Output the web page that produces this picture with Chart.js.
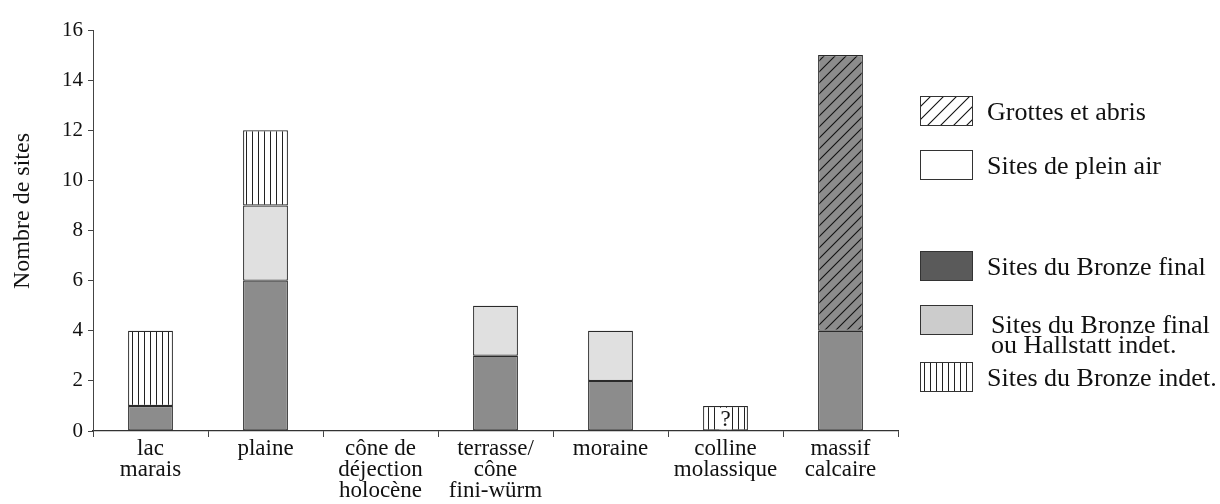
<!DOCTYPE html>
<html>
<head>
<meta charset="utf-8">
<script src="https://cdn.jsdelivr.net/npm/chart.js@4.4.1/dist/chart.umd.min.js"></script>
<style>
  html, body { margin: 0; background: #fff; }
  #wrap { width: 1220px; height: 504px; position: relative; }
</style>
</head>
<body>
<div id="wrap"><canvas id="chart"></canvas></div>
<script>
// data
const categories = [
  ['lac', 'marais'], ['plaine'], ['cône de', 'déjection', 'holocène'],
  ['terrasse/', 'cône', 'fini-würm'], ['moraine'], ['colline', 'molassique'], ['massif', 'calcaire']
];
const bronzeFinal     = [1, 6, 0, 3, 2, 0, 4];
const bronzeHallstatt = [0, 3, 0, 2, 2, 0, 0];
const bronzeIndet     = [3, 3, 0, 0, 0, 1, 0];
const grottes         = [0, 0, 0, 0, 0, 0, 11];
const barNotes        = ['', '', '', '', '', '?', ''];
const legendLabels = [
  ['Grottes et abris'],
  ['Sites de plein air'],
  ['Sites du Bronze final'],
  ['Sites du Bronze final', 'ou Hallstatt indet.'],
  ['Sites du Bronze indet.']
];
const yTitle = 'Nombre de sites';

const FONT = "'Liberation Serif', 'Times New Roman', serif";
const EDGE = '#2a2a2a';

// patterns
function makeTile(w, h, draw) {
  const c = document.createElement('canvas');
  c.width = w; c.height = h;
  draw(c.getContext('2d'), w, h);
  return c;
}
const ctx = document.getElementById('chart').getContext('2d');

const vertTile = makeTile(6, 6, (g, w, h) => {
  g.fillStyle = '#fff'; g.fillRect(0, 0, w, h);
  g.strokeStyle = '#222'; g.lineWidth = 1;
  g.beginPath(); g.moveTo(0.5, 0); g.lineTo(0.5, h); g.stroke();
});
function hatchTile(bg, s) {
  return makeTile(s, s, (g, w, h) => {
    g.fillStyle = bg; g.fillRect(0, 0, w, h);
    g.strokeStyle = '#111'; g.lineWidth = 1.1;
    g.beginPath();
    g.moveTo(0, h); g.lineTo(w, 0);
    g.moveTo(-1, 1); g.lineTo(1, -1);
    g.moveTo(w - 1, h + 1); g.lineTo(w + 1, h - 1);
    g.stroke();
  });
}
const vertPattern = ctx.createPattern(vertTile, 'repeat');
const hatchGray = ctx.createPattern(hatchTile('#8c8c8c', 11), 'repeat');
const hatchWhite = ctx.createPattern(hatchTile('#ffffff', 13), 'repeat');

// legend swatches, same order as legendLabels
const legendFills = [hatchWhite, '#ffffff', '#5a5a5a', '#cccccc', vertPattern];
const legendY = [111, 165, 266, 320, 377];

const legendPlugin = {
  id: 'sideLegend',
  afterDraw(chart) {
    const c = chart.ctx;
    c.save();
    legendLabels.forEach((lines, i) => {
      const y = legendY[i];
      c.fillStyle = legendFills[i];
      c.fillRect(920, y - 15, 53, 30);
      c.strokeStyle = '#333';
      c.lineWidth = 1;
      c.strokeRect(920.5, y - 14.5, 52, 29);
      c.fillStyle = '#111';
      c.font = '26px ' + FONT;
      c.textBaseline = 'alphabetic';
      c.textAlign = 'left';
      if (lines.length === 1) {
        c.fillText(lines[0], 987, y + 9);
      } else {
        c.fillText(lines[0], 991, y + 13);
        c.fillText(lines[1], 991, y + 33);
      }
    });
    // y axis title
    c.translate(23, 211);
    c.rotate(-Math.PI / 2);
    c.font = '24px ' + FONT;
    c.textAlign = 'center';
    c.textBaseline = 'middle';
    c.fillText(yTitle, 0, 0);
    c.restore();
  }
};

const notePlugin = {
  id: 'barNotes',
  afterDatasetsDraw(chart) {
    const c = chart.ctx;
    const meta = chart.getDatasetMeta(2);
    c.save();
    c.font = '23px ' + FONT;
    c.textAlign = 'center';
    c.textBaseline = 'middle';
    barNotes.forEach((t, i) => {
      if (!t) return;
      const el = meta.data[i];
      const w = c.measureText(t).width + 2;
      c.fillStyle = '#fff';
      c.fillRect(el.x - w / 2, el.y + 2, w, el.base - el.y - 3);
      c.fillStyle = '#111';
      c.fillText(t, el.x, (el.y + el.base) / 2 + 2);
    });
    c.restore();
  }
};

const common = { borderColor: EDGE, borderWidth: 1.2, borderSkipped: false, barPercentage: 0.39, categoryPercentage: 1 };

new Chart(ctx, {
  type: 'bar',
  data: {
    labels: categories,
    datasets: [
      Object.assign({ label: legendLabels[2][0], data: bronzeFinal, backgroundColor: '#8c8c8c' }, common),
      Object.assign({ label: legendLabels[3].join(' '), data: bronzeHallstatt, backgroundColor: '#e0e0e0' }, common),
      Object.assign({ label: legendLabels[4][0], data: bronzeIndet, backgroundColor: vertPattern }, common),
      Object.assign({ label: legendLabels[0][0], data: grottes, backgroundColor: hatchGray }, common)
    ]
  },
  options: {
    responsive: true,
    maintainAspectRatio: false,
    animation: false,
    layout: { padding: { top: 30, right: 322, bottom: 0, left: 0 } },
    plugins: { legend: { display: false }, tooltip: { enabled: false } },
    scales: {
      x: {
        stacked: true,
        afterFit: (s) => { s.height = 73; },
        grid: { offset: true, drawOnChartArea: false, drawTicks: true, tickLength: 6, color: '#444' },
        border: { display: true, color: '#333', width: 1.2 },
        ticks: { color: '#111', padding: 1, maxRotation: 0, autoSkip: false, font: { family: FONT, size: 23, lineHeight: '21px' } }
      },
      y: {
        stacked: true,
        min: 0, max: 16,
        afterFit: (s) => { s.width = 93; },
        grid: { drawOnChartArea: false, drawTicks: true, tickLength: 5, color: '#444' },
        border: { display: true, color: '#444', width: 1 },
        ticks: { stepSize: 2, color: '#111', padding: 5, font: { family: FONT, size: 21 } }
      }
    }
  },
  plugins: [notePlugin, legendPlugin]
});
</script>
</body>
</html>
